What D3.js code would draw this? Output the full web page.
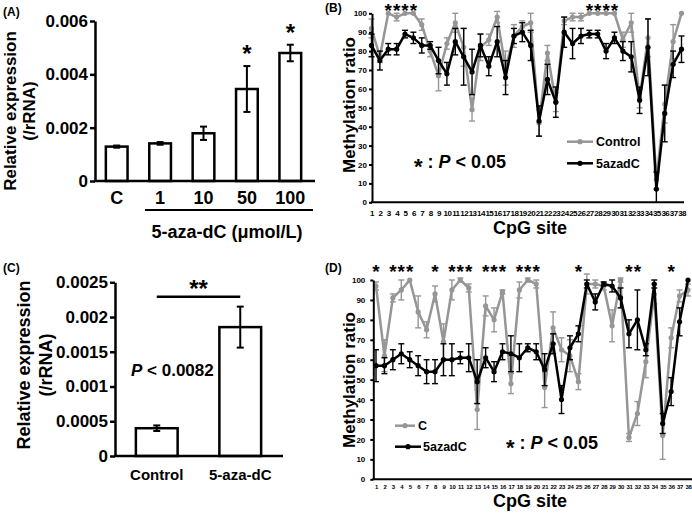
<!DOCTYPE html>
<html><head><meta charset="utf-8">
<script src="https://cdn.jsdelivr.net/npm/d3@7"></script>
<style>
body{margin:0;background:#fff}
svg{display:block}
text{font-family:"Liberation Sans",Arial,Helvetica,sans-serif;font-weight:bold;fill:#000}
</style>
</head><body>
<svg id="chart" width="692" height="513"></svg>
<script>
// ---------- Panel A data ----------
const aCategories = ["C", "1", "10", "50", "100"];
const aValues = [0.00129, 0.00141, 0.00179, 0.00345, 0.00480];
const aErrors = [0.00004, 0.00005, 0.00025, 0.00086, 0.00031];
const aSignif = ["50", "100"];
const aTicks = [0, 0.002, 0.004, 0.006];

// ---------- Panel C data ----------
const cCategories = ["Control", "5-aza-dC"];
const cValues = [0.000400, 0.001855];
const cErrors = [0.000040, 0.000295];
const cTicks = [0, 0.0005, 0.001, 0.0015, 0.002, 0.0025];
const cTickLabels = ["0", "0.0005", "0.001", "0.0015", "0.002", "0.0025"];

// ---------- Panels B / D data ----------
const sites = [1,2,3,4,5,6,7,8,9,10,11,12,13,14,15,16,17,18,19,20,21,22,23,24,25,26,27,28,29,30,31,32,33,34,35,36,37,38];
const methTicks = [0,10,20,30,40,50,60,70,80,90,100];

const bControl    = [92,77,100,98,100,100,94,80,67,84,95,82,49,82,86,98,71,88,93,95,42,79,53,96,98,98,100,100,100,100,86,95,55,87,12,52,85,100];
const bControlErr = [5,3,0,2,0,0,3,3,8,3,5,10,6,7,3,3,9,6,3,5,7,4,5,2,2,2,0,0,0,0,4,5,5,10,5,10,9,0];
const b5aza       = [83,75,81,81,89,87,83,83,75,68,85,77,69,83,72,85,66,88,90,83,43,65,53,90,84,88,89,89,80,87,80,77,54,82,7,47,73,81];
const b5azaErr    = [6,5,3,3,2,3,4,2,7,6,7,15,12,6,5,8,9,4,5,8,8,8,8,8,8,4,2,2,4,3,5,8,7,15,9,15,7,7];
const bSignifSites = [3,4,5,6,27,28,29,30];

const dC          = [97,62,91,95,100,84,75,93,69,95,100,96,35,87,80,94,48,95,100,98,46,76,65,62,49,98,98,97,77,100,21,33,59,93,22,71,92,95];
const dCErr       = [2,8,2,5,0,8,4,4,9,5,1,2,10,5,6,1,5,4,1,2,10,8,6,8,4,5,2,2,8,1,2,6,8,5,12,5,3,3];
const d5aza       = [57,57,60,63,60,57,54,54,60,60,61,61,49,61,54,64,63,61,66,64,55,68,40,66,73,98,89,98,97,91,73,80,65,98,28,44,79,100];
const d5azaErr    = [8,4,5,5,4,5,6,6,8,8,3,7,11,5,5,4,9,7,2,4,8,5,7,6,4,2,4,1,3,5,7,15,3,2,5,7,7,0];
const dSignifSites = [1,3,4,5,8,10,11,12,14,15,16,18,19,20,25,31,32,36];

const GRAY = "#969696";
const svg = d3.select("#chart");

function styleAxis(g, sw, fs) {
  g.select(".domain").attr("stroke", "#000").attr("stroke-width", sw);
  g.selectAll(".tick line").attr("stroke", "#000").attr("stroke-width", sw);
  g.selectAll(".tick text").attr("font-size", fs).attr("fill", "#000")
    .attr("font-family", '"Liberation Sans",Arial,sans-serif').attr("font-weight", "bold");
}

function rotLabel(x, y, txt, fs) {
  svg.append("text").attr("transform", `translate(${x},${y}) rotate(-90)`)
    .attr("text-anchor", "middle").attr("dy", "0.35em").attr("font-size", fs).text(txt);
}

// ================= Panel A =================
(function () {
  const left = 95, right = 315, bottom = 181;
  const x = d3.scaleBand().domain(aCategories).range([left, 312]).paddingInner(0.5).paddingOuter(0.25);
  const y = d3.scaleLinear().domain([0, 0.006]).range([bottom, 21]);
  const g = svg.append("g");
  const data = aCategories.map((c, i) => ({ c, v: aValues[i], e: aErrors[i] }));

  g.selectAll("rect").data(data).join("rect")
    .attr("x", d => x(d.c)).attr("width", x.bandwidth())
    .attr("y", d => y(d.v)).attr("height", d => y(0) - y(d.v))
    .attr("fill", "#fff").attr("stroke", "#000").attr("stroke-width", 2.5);

  const eb = g.selectAll("g.eb").data(data).join("g").attr("class", "eb")
    .attr("stroke", "#000").attr("stroke-width", 2);
  eb.append("line").attr("x1", d => x(d.c) + x.bandwidth() / 2).attr("x2", d => x(d.c) + x.bandwidth() / 2)
    .attr("y1", d => y(d.v - d.e)).attr("y2", d => y(d.v + d.e));
  [1, -1].forEach(s => eb.append("line")
    .attr("x1", d => x(d.c) + x.bandwidth() / 2 - 3.5).attr("x2", d => x(d.c) + x.bandwidth() / 2 + 3.5)
    .attr("y1", d => y(d.v + s * d.e)).attr("y2", d => y(d.v + s * d.e)));

  const ya = svg.append("g").attr("transform", `translate(${left},0)`)
    .call(d3.axisLeft(y).tickValues(aTicks).tickSize(5).tickSizeOuter(0).tickPadding(2)
      .tickFormat(d => d === 0 ? "0" : d.toFixed(3)));
  styleAxis(ya, 2.5, 17);
  svg.append("line").attr("x1", left - 1).attr("x2", right).attr("y1", bottom).attr("y2", bottom)
    .attr("stroke", "#000").attr("stroke-width", 2.5);
  const xa = svg.append("g").attr("transform", `translate(0,${bottom})`)
    .call(d3.axisBottom(x).tickSize(0).tickPadding(10));
  xa.select(".domain").remove();
  styleAxis(xa, 0, 18);

  g.selectAll("text.star").data(data.filter(d => aSignif.includes(d.c))).join("text")
    .attr("class", "star").attr("x", d => x(d.c) + x.bandwidth() / 2).attr("y", d => y(d.v + d.e) - 4)
    .attr("text-anchor", "middle").attr("font-size", 24).text("*");

  svg.append("line").attr("x1", 145).attr("x2", 313).attr("y1", 210).attr("y2", 210)
    .attr("stroke", "#000").attr("stroke-width", 2);
  svg.append("text").attr("x", 227).attr("y", 238).attr("text-anchor", "middle")
    .attr("font-size", 18).text("5-aza-dC (μmol/L)");
  rotLabel(10, 111, "Relative expression", 17);
  rotLabel(29, 111, "(/rRNA)", 17);
  svg.append("text").attr("x", 3).attr("y", 16).attr("font-size", 12).text("(A)");
})();

// ================= Panel C =================
(function () {
  const left = 115, right = 283, bottom = 456;
  const x = d3.scaleBand().domain(cCategories).range([left, 282]).paddingInner(0.5).paddingOuter(0.25);
  const y = d3.scaleLinear().domain([0, 0.0025]).range([bottom, 282.3]);
  const g = svg.append("g");
  const data = cCategories.map((c, i) => ({ c, v: cValues[i], e: cErrors[i] }));

  g.selectAll("rect").data(data).join("rect")
    .attr("x", d => x(d.c)).attr("width", x.bandwidth())
    .attr("y", d => y(d.v)).attr("height", d => y(0) - y(d.v))
    .attr("fill", "#fff").attr("stroke", "#000").attr("stroke-width", 2.5);
  const eb = g.selectAll("g.eb").data(data).join("g").attr("class", "eb")
    .attr("stroke", "#000").attr("stroke-width", 2);
  eb.append("line").attr("x1", d => x(d.c) + x.bandwidth() / 2).attr("x2", d => x(d.c) + x.bandwidth() / 2)
    .attr("y1", d => y(d.v - d.e)).attr("y2", d => y(d.v + d.e));
  [1, -1].forEach(s => eb.append("line")
    .attr("x1", d => x(d.c) + x.bandwidth() / 2 - 3.5).attr("x2", d => x(d.c) + x.bandwidth() / 2 + 3.5)
    .attr("y1", d => y(d.v + s * d.e)).attr("y2", d => y(d.v + s * d.e)));

  const ya = svg.append("g").attr("transform", `translate(${left},0)`)
    .call(d3.axisLeft(y).tickValues(cTicks).tickSize(5).tickSizeOuter(0).tickPadding(2)
      .tickFormat((d, i) => cTickLabels[i]));
  styleAxis(ya, 2.5, 17);
  svg.append("line").attr("x1", left - 1).attr("x2", right).attr("y1", bottom).attr("y2", bottom)
    .attr("stroke", "#000").attr("stroke-width", 2.5);
  const xa = svg.append("g").attr("transform", `translate(0,${bottom})`)
    .call(d3.axisBottom(x).tickSize(0).tickPadding(13));
  xa.select(".domain").remove();
  styleAxis(xa, 0, 15);

  const cx = cCategories.map(c => x(c) + x.bandwidth() / 2);
  svg.append("line").attr("x1", cx[0]).attr("x2", cx[1]).attr("y1", 296.7).attr("y2", 296.7)
    .attr("stroke", "#000").attr("stroke-width", 2.5);
  svg.append("text").attr("x", (cx[0] + cx[1]) / 2).attr("y", 297).attr("text-anchor", "middle")
    .attr("font-size", 24).text("**");
  const pt = svg.append("text").attr("x", 131).attr("y", 376).attr("font-size", 17);
  pt.append("tspan").attr("font-style", "italic").text("P");
  pt.append("tspan").text(" < 0.0082");
  rotLabel(24, 365, "Relative expression", 18);
  rotLabel(46, 365, "(/rRNA)", 18);
  svg.append("text").attr("x", 3).attr("y", 272).attr("font-size", 12).text("(C)");
})();

// ================= Line panels (B, D) =================
function linePanel(cfg) {
  const x = d3.scalePoint().domain(sites).range([cfg.x0, cfg.x1]);
  const y = d3.scaleLinear().domain([0, 100]).range([cfg.yb, cfg.yt]);
  const g = svg.append("g");

  const series = [
    { vals: cfg.grayVals, errs: cfg.grayErr, color: GRAY },
    { vals: cfg.blackVals, errs: cfg.blackErr, color: "#000" }
  ];
  series.forEach(s => {
    const pts = sites.map((st, i) => ({ st, v: s.vals[i], e: s.errs[i] }));
    const eg = g.append("g").attr("stroke", s.color).attr("stroke-width", 1.4);
    pts.filter(p => p.e > 0).forEach(p => {
      const xx = x(p.st);
      eg.append("line").attr("x1", xx).attr("x2", xx).attr("y1", y(Math.max(0, p.v - p.e))).attr("y2", y(p.v + p.e));
      eg.append("line").attr("x1", xx - 3).attr("x2", xx + 3).attr("y1", y(p.v + p.e)).attr("y2", y(p.v + p.e));
      if (p.v - p.e >= 0) eg.append("line").attr("x1", xx - 3).attr("x2", xx + 3).attr("y1", y(p.v - p.e)).attr("y2", y(p.v - p.e));
    });
    g.append("path").datum(pts)
      .attr("d", d3.line().x(p => x(p.st)).y(p => y(p.v)))
      .attr("fill", "none").attr("stroke", s.color).attr("stroke-width", 2.5).attr("stroke-linejoin", "round");
    g.selectAll(null).data(pts).join("circle")
      .attr("cx", p => x(p.st)).attr("cy", p => y(p.v)).attr("r", 2.6).attr("fill", s.color);
  });

  const ya = svg.append("g").attr("transform", `translate(${cfg.axisX},0)`)
    .call(d3.axisLeft(y).tickValues(methTicks).tickSize(3).tickSizeOuter(0).tickPadding(cfg.yPad));
  styleAxis(ya, 2, cfg.yFs);
  svg.append("line").attr("x1", cfg.axisX - 1).attr("x2", cfg.axisEnd).attr("y1", cfg.yb).attr("y2", cfg.yb)
    .attr("stroke", "#000").attr("stroke-width", 2);
  const xa = svg.append("g").attr("transform", `translate(0,${cfg.yb})`)
    .call(d3.axisBottom(x).tickSize(0).tickPadding(cfg.xPad));
  xa.select(".domain").remove();
  styleAxis(xa, 0, cfg.xFs);
  xa.selectAll(".tick text").attr("letter-spacing", cfg.ls);

  g.selectAll("text.star").data(cfg.signif).join("text").attr("class", "star")
    .attr("x", d => x(d)).attr("y", cfg.starY).attr("text-anchor", "middle")
    .attr("font-size", 19).text("*");

  svg.append("text").attr("x", 530).attr("y", cfg.titleY).attr("text-anchor", "middle")
    .attr("font-size", 18).text("CpG site");
  rotLabel(349, cfg.ylabY, "Methylation ratio", 17);

  // legend
  cfg.legend.forEach(L => {
    svg.append("line").attr("x1", L.x0).attr("x2", L.x1).attr("y1", L.y).attr("y2", L.y)
      .attr("stroke", L.color).attr("stroke-width", 2.5);
    svg.append("circle").attr("cx", L.cx).attr("cy", L.y).attr("r", 2.6).attr("fill", L.color);
    svg.append("text").attr("x", L.tx).attr("y", L.y).attr("dy", "0.35em").attr("font-size", 12.5).text(L.label);
  });
  const pt = svg.append("text").attr("x", cfg.pX).attr("y", cfg.pY).attr("font-size", 18);
  pt.append("tspan").attr("font-size", 22).attr("dy", 6).text("*");
  pt.append("tspan").attr("dy", -6).text(" : ");
  pt.append("tspan").attr("font-style", "italic").text("P");
  pt.append("tspan").text(" < 0.05");
}

linePanel({
  x0: 371.5, x1: 681.5, yb: 202.3, yt: 13.3, axisX: 372, axisEnd: 684,
  grayVals: bControl, grayErr: bControlErr, blackVals: b5aza, blackErr: b5azaErr,
  signif: bSignifSites, starY: 17, titleY: 234, ylabY: 105,
  yPad: 2, yFs: 8, xPad: 8, xFs: 8, ls: -0.6,
  legend: [
    { x0: 567, x1: 593, cx: 580, y: 141.7, color: GRAY, tx: 596, label: "Control" },
    { x0: 567, x1: 593, cx: 580, y: 163.3, color: "#000", tx: 596, label: "5azadC" }
  ],
  pX: 414, pY: 168
});

linePanel({
  x0: 376, x1: 688, yb: 479.3, yt: 280, axisX: 373.3, axisEnd: 692,
  grayVals: dC, grayErr: dCErr, blackVals: d5aza, blackErr: d5azaErr,
  signif: dSignifSites, starY: 278, titleY: 507, ylabY: 380,
  yPad: 5, yFs: 8, xPad: 5, xFs: 6, ls: -0.3,
  legend: [
    { x0: 395, x1: 415, cx: 405, y: 425.7, color: GRAY, tx: 418, label: "C" },
    { x0: 395, x1: 421, cx: 408, y: 446.7, color: "#000", tx: 423, label: "5azadC" }
  ],
  pX: 506, pY: 449
});
svg.append("text").attr("x", 325).attr("y", 12).attr("font-size", 12).text("(B)");
svg.append("text").attr("x", 325).attr("y", 272).attr("font-size", 12).text("(D)");
</script>
</body></html>
